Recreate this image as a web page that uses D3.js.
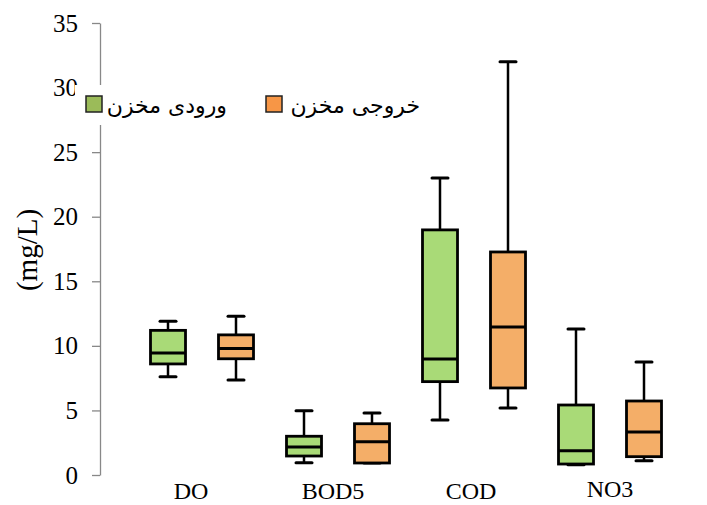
<!DOCTYPE html>
<html>
<head>
<meta charset="utf-8">
<script src="https://cdn.jsdelivr.net/npm/d3@7"></script>
<style>
  body { margin: 0; background: #fff; }
</style>
</head>
<body>
<div id="container"></div>
<script>
'use strict'

// data
const categories = ['DO', 'BOD5', 'COD', 'NO3'];
const series = ['ورودی مخزن', 'خروجی مخزن'];
// [min, q1, median, q3, max]
const inletStats = [
  [7.6, 8.6, 9.45, 11.2, 11.9],
  [0.95, 1.47, 2.17, 3.0, 4.98],
  [4.26, 7.23, 8.98, 18.98, 23.0],
  [0.8, 0.85, 1.88, 5.42, 11.3]
];
const outletStats = [
  [7.35, 9.0, 9.8, 10.85, 12.3],
  [0.93, 0.93, 2.58, 3.97, 4.8],
  [5.19, 6.74, 11.46, 17.27, 32.0],
  [1.1, 1.42, 3.33, 5.73, 8.75]
];
const yTicks = [0, 5, 10, 15, 20, 25, 30, 35];

const w = 707, h = 505;
const fills = ['#a9da77', '#f4ae68'];
const legendFills = ['#9bbb59', '#f79646'];
const labelShift = [-11, -5, -3, 0]; // category labels are not quite centred in the original

const svg = d3.select('#container').append('svg')
  .attr('width', w).attr('height', h);

const y = d3.scaleLinear().domain([0, 35]).range([475, 23]);
const x = d3.scaleBand().domain(categories).range([134, 678]);
const xs = d3.scalePoint().domain(series).range([0, x.bandwidth()]).padding(0.5);
const boxW = 35, capW = 16;

// y axis
const yAxis = d3.axisLeft(y).tickValues(yTicks).tickSize(8).tickSizeOuter(0).tickPadding(14);
const gy = svg.append('g').attr('transform', 'translate(100,0)').call(yAxis);
gy.select('.domain').attr('stroke', '#888').attr('stroke-width', 1.3);
gy.selectAll('.tick line').attr('stroke', '#888').attr('stroke-width', 1.3);
gy.selectAll('.tick text')
  .attr('fill', '#000')
  .style('font-family', '"Liberation Serif", serif')
  .style('font-size', '25px');

svg.append('text')
  .attr('transform', 'translate(37,250) rotate(-90)')
  .attr('text-anchor', 'middle')
  .style('font-family', '"Liberation Serif", serif')
  .style('font-size', '29px')
  .text('(mg/L)');

// category labels
svg.selectAll('text.cat')
  .data(categories)
  .enter().append('text')
  .attr('class', 'cat')
  .attr('x', (d, i) => x(d) + x.bandwidth() / 2 + labelShift[i])
  .attr('y', (d, i) => i === 3 ? 497 : 499)
  .attr('text-anchor', 'middle')
  .style('font-family', '"Liberation Serif", serif')
  .style('font-size', '24px')
  .text(d => d);

// boxes
const allStats = [inletStats, outletStats];
series.forEach(function(s, si) {
  const g = svg.append('g');
  const items = categories.map((c, i) => ({ c: c, v: allStats[si][i] }));
  const cx = d => x(d.c) + xs(s);

  // whiskers
  g.selectAll('line.wup').data(items).enter().append('line')
    .attr('x1', cx).attr('x2', cx)
    .attr('y1', d => y(d.v[3])).attr('y2', d => y(d.v[4]))
    .attr('stroke', '#000').attr('stroke-width', 2.5);
  g.selectAll('line.wdn').data(items).enter().append('line')
    .attr('x1', cx).attr('x2', cx)
    .attr('y1', d => y(d.v[1])).attr('y2', d => y(d.v[0]))
    .attr('stroke', '#000').attr('stroke-width', 2.5);
  // caps
  [0, 4].forEach(function(k) {
    g.selectAll('line.cap' + k).data(items).enter().append('line')
      .attr('x1', d => cx(d) - capW / 2).attr('x2', d => cx(d) + capW / 2)
      .attr('y1', d => y(d.v[k])).attr('y2', d => y(d.v[k]))
      .attr('stroke', '#000').attr('stroke-width', 3).attr('stroke-linecap', 'round');
  });
  // box
  g.selectAll('rect').data(items).enter().append('rect')
    .attr('x', d => cx(d) - boxW / 2)
    .attr('y', d => y(d.v[3]))
    .attr('width', boxW)
    .attr('height', d => y(d.v[1]) - y(d.v[3]))
    .attr('fill', fills[si])
    .attr('stroke', '#000').attr('stroke-width', 2.8);
  // median
  g.selectAll('line.med').data(items).enter().append('line')
    .attr('x1', d => cx(d) - boxW / 2).attr('x2', d => cx(d) + boxW / 2)
    .attr('y1', d => y(d.v[2])).attr('y2', d => y(d.v[2]))
    .attr('stroke', '#000').attr('stroke-width', 3);
});

// legend (drawn on a white box over the axis)
const legend = svg.append('g');
legend.append('rect')
  .attr('x', 75).attr('y', 85).attr('width', 355).attr('height', 40)
  .attr('fill', '#fff');
const legendPos = [{ sq: 86, tx: 227 }, { sq: 266, tx: 420 }];
series.forEach(function(s, i) {
  legend.append('rect')
    .attr('x', legendPos[i].sq).attr('y', 96).attr('width', 16).attr('height', 16)
    .attr('fill', legendFills[i]).attr('stroke', '#222').attr('stroke-width', 1.5);
  legend.append('text')
    .attr('x', legendPos[i].tx).attr('y', 113)
    .attr('text-anchor', 'end')
    .style('font-family', '"DejaVu Sans", sans-serif')
    .style('font-size', '22px')
    .text(s);
});
</script>
</body>
</html>
